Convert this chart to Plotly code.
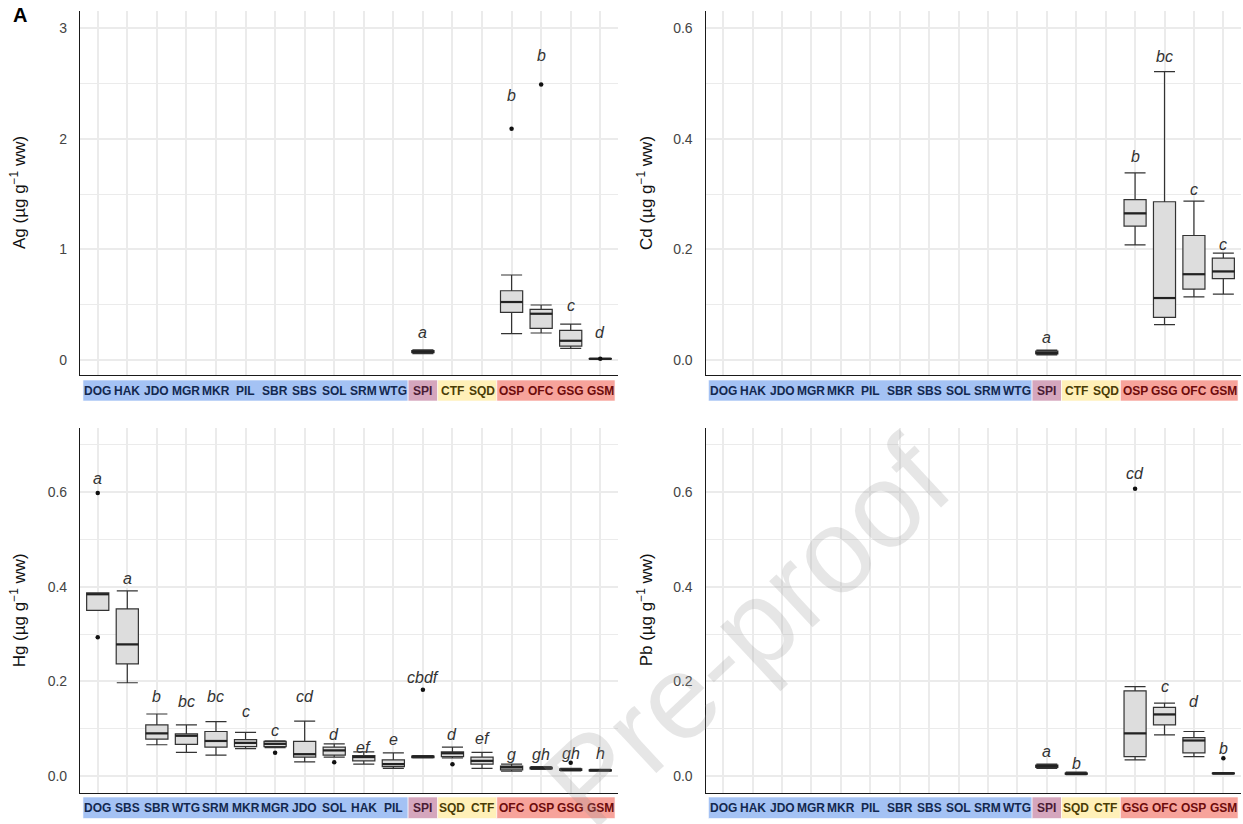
import plotly.graph_objects as go

W, H = 1243, 824

# ---------------- categories ----------------
ag_cats = ["DOG","HAK","JDO","MGR","MKR","PIL","SBR","SBS","SOL","SRM","WTG","SPI","CTF","SQD","OSP","OFC","GSG","GSM"]
cd_cats = ["DOG","HAK","JDO","MGR","MKR","PIL","SBR","SBS","SOL","SRM","WTG","SPI","CTF","SQD","OSP","GSG","OFC","GSM"]
hg_cats = ["DOG","SBS","SBR","WTG","SRM","MKR","MGR","JDO","SOL","HAK","PIL","SPI","SQD","CTF","OFC","OSP","GSG","GSM"]
pb_cats = ["DOG","HAK","JDO","MGR","MKR","PIL","SBR","SBS","SOL","SRM","WTG","SPI","SQD","CTF","GSG","OFC","OSP","GSM"]

# group of each category: 0 blue, 1 pink, 2 yellow, 3 red
group_of = {c: 0 for c in ["DOG","HAK","JDO","MGR","MKR","PIL","SBR","SBS","SOL","SRM","WTG"]}
group_of.update({"SPI": 1, "CTF": 2, "SQD": 2, "OSP": 3, "OFC": 3, "GSG": 3, "GSM": 3})

# ---------------- Ag ----------------
ag_box = ["SPI", "OSP", "OFC", "GSG", "GSM"]
ag_low = [0.058, 0.238, 0.244, 0.105, 0.006]
ag_q1 = [0.066, 0.430, 0.286, 0.126, 0.009]
ag_med = [0.075, 0.524, 0.418, 0.174, 0.011]
ag_q3 = [0.085, 0.626, 0.458, 0.268, 0.013]
ag_high = [0.092, 0.768, 0.497, 0.325, 0.016]
ag_out_cat = ["OSP", "OFC", "GSM"]
ag_out_val = [2.09, 2.49, 0.012]
ag_letters = ["a", "b", "b", "c", "d"]
ag_letter_y = [0.253, 2.394, 2.755, 0.497, 0.247]

# ---------------- Cd ----------------
cd_box = ["SPI", "OSP", "GSG", "OFC", "GSM"]
cd_low = [0.009, 0.208, 0.064, 0.114, 0.119]
cd_q1 = [0.011, 0.242, 0.077, 0.128, 0.147]
cd_med = [0.013, 0.265, 0.112, 0.155, 0.160]
cd_q3 = [0.016, 0.290, 0.286, 0.225, 0.184]
cd_high = [0.018, 0.338, 0.521, 0.287, 0.193]
cd_out_cat = []
cd_out_val = []
cd_letters = ["a", "b", "bc", "c", "c"]
cd_letter_y = [0.040, 0.368, 0.548, 0.308, 0.208]

# ---------------- Hg ----------------
hg_box = hg_cats
hg_low = [0.350, 0.197, 0.066, 0.050, 0.044, 0.058, 0.060, 0.030, 0.040, 0.025, 0.016, 0.038, 0.038, 0.016, 0.010, 0.014, 0.011, 0.010]
hg_q1 = [0.350, 0.237, 0.078, 0.067, 0.061, 0.062, 0.062, 0.040, 0.044, 0.032, 0.020, 0.039, 0.041, 0.025, 0.013, 0.015, 0.012, 0.011]
hg_med = [0.384, 0.278, 0.090, 0.085, 0.074, 0.070, 0.068, 0.046, 0.054, 0.040, 0.025, 0.041, 0.048, 0.032, 0.018, 0.017, 0.013, 0.012]
hg_q3 = [0.387, 0.353, 0.108, 0.089, 0.094, 0.077, 0.073, 0.073, 0.061, 0.043, 0.034, 0.042, 0.051, 0.040, 0.021, 0.018, 0.015, 0.013]
hg_high = [0.387, 0.391, 0.131, 0.108, 0.115, 0.092, 0.074, 0.116, 0.068, 0.051, 0.049, 0.043, 0.061, 0.050, 0.025, 0.020, 0.016, 0.014]
hg_out_cat = ["DOG", "DOG", "MGR", "SOL", "SPI", "SQD", "GSG"]
hg_out_val = [0.598, 0.293, 0.049, 0.029, 0.182, 0.025, 0.028]
hg_letters = ["a", "a", "b", "bc", "bc", "c", "c", "cd", "d", "ef", "e", "cbdf", "d", "ef", "g", "gh", "gh", "h"]
hg_letter_y = [0.629, 0.418, 0.168, 0.158, 0.168, 0.137, 0.097, 0.169, 0.088, 0.061, 0.078, 0.208, 0.088, 0.080, 0.046, 0.046, 0.047, 0.047]

# ---------------- Pb ----------------
pb_box = ["SPI", "SQD", "GSG", "OFC", "OSP", "GSM"]
pb_low = [0.016, 0.003, 0.034, 0.087, 0.041, 0.004]
pb_q1 = [0.018, 0.004, 0.041, 0.108, 0.049, 0.005]
pb_med = [0.021, 0.005, 0.090, 0.130, 0.075, 0.0056]
pb_q3 = [0.023, 0.006, 0.180, 0.145, 0.081, 0.006]
pb_high = [0.025, 0.008, 0.189, 0.154, 0.094, 0.007]
pb_out_cat = ["GSG", "GSM"]
pb_out_val = [0.607, 0.0375]
pb_letters = ["a", "b", "cd", "c", "d", "b"]
pb_letter_y = [0.051, 0.027, 0.639, 0.189, 0.157, 0.0585]

# ---------------- styling ----------------
FONT = "Liberation Sans, Arial, sans-serif"
BOX_FILL = "#dddddd"
BOX_LINE = "#333333"
GRID = "#ebebeb"
strip_fill = ["#a4c2f4", "#d5a6bd", "#fff0b8", "#f7a39b"]
strip_text = ["#13284f", "#4a1c35", "#4a3c05", "#6e0b0b"]

XL = [80 / W, 618 / W]
XR = [705.5 / W, 1241 / W]
YT = [1 - 375 / H, 1 - 11 / H]
YB = [1 - 792.7 / H, 1 - 428 / H]

fig = go.Figure()
annotations = []
shapes = []

panels = [
    dict(ax="", cats=ag_cats, box=ag_box, low=ag_low, q1=ag_q1, med=ag_med, q3=ag_q3, high=ag_high,
         oc=ag_out_cat, ov=ag_out_val, let=ag_letters, ly=ag_letter_y, xd=XL, yd=YT,
         rng=[-0.1355, 3.1536], dt=1, fmt="d", title="Ag (µg g<sup>−1</sup> ww)", strip=(380, 401)),
    dict(ax="2", cats=cd_cats, box=cd_box, low=cd_low, q1=cd_q1, med=cd_med, q3=cd_q3, high=cd_high,
         oc=cd_out_cat, ov=cd_out_val, let=cd_letters, ly=cd_letter_y, xd=XR, yd=YT,
         rng=[-0.0271, 0.6307], dt=0.2, fmt=".1f", title="Cd (µg g<sup>−1</sup> ww)", strip=(380, 401)),
    dict(ax="3", cats=hg_cats, box=hg_box, low=hg_low, q1=hg_q1, med=hg_med, q3=hg_q3, high=hg_high,
         oc=hg_out_cat, ov=hg_out_val, let=hg_letters, ly=hg_letter_y, xd=XL, yd=YB,
         rng=[-0.0353, 0.7353], dt=0.2, fmt=".1f", title="Hg (µg g<sup>−1</sup> ww)", strip=(797, 818.5)),
    dict(ax="4", cats=pb_cats, box=pb_box, low=pb_low, q1=pb_q1, med=pb_med, q3=pb_q3, high=pb_high,
         oc=pb_out_cat, ov=pb_out_val, let=pb_letters, ly=pb_letter_y, xd=XR, yd=YB,
         rng=[-0.0353, 0.7353], dt=0.2, fmt=".1f", title="Pb (µg g<sup>−1</sup> ww)", strip=(797, 818.5)),
]

layout_axes = {}
for p in panels:
    xa = "x" + p["ax"]
    ya = "y" + p["ax"]
    idx = {c: i for i, c in enumerate(p["cats"])}
    bx = [idx[c] for c in p["box"]]
    fig.add_trace(go.Box(
        x=bx, q1=p["q1"], median=p["med"], q3=p["q3"],
        lowerfence=p["low"], upperfence=p["high"],
        width=0.75, whiskerwidth=0.95, boxpoints=False,
        fillcolor=BOX_FILL, line=dict(color=BOX_LINE, width=1.2),
        xaxis=xa, yaxis=ya, showlegend=False, hoverinfo="skip"))
    # thicker median
    fig.add_trace(go.Scatter(
        x=bx, y=p["med"], mode="markers", xaxis=xa, yaxis=ya, showlegend=False,
        marker=dict(symbol="line-ew", size=16, line=dict(color="#222222", width=2.2)),
        hoverinfo="skip"))
    if p["oc"]:
        fig.add_trace(go.Scatter(
            x=[idx[c] for c in p["oc"]], y=p["ov"], mode="markers", xaxis=xa, yaxis=ya,
            showlegend=False, marker=dict(color="#111111", size=4.5), hoverinfo="skip"))
    for c, t, yv in zip(p["box"], p["let"], p["ly"]):
        annotations.append(dict(x=idx[c], y=yv, xref=xa, yref=ya, text="<i>" + t + "</i>",
                                showarrow=False, yanchor="middle",
                                font=dict(family=FONT, size=16, color="#333333")))
    # strip
    s0, s1 = p["strip"]
    yy0, yy1 = 1 - s1 / H, 1 - s0 / H
    groups = [group_of[c] for c in p["cats"]]
    start = 0
    for i in range(1, len(groups) + 1):
        if i == len(groups) or groups[i] != groups[start]:
            shapes.append(dict(type="rect", xref=xa, yref="paper", x0=start - 0.5, x1=i - 0.5,
                               y0=yy0, y1=yy1, fillcolor=strip_fill[groups[start]],
                               line=dict(width=0.6, color="white"), layer="below"))
            start = i
    for i, c in enumerate(p["cats"]):
        annotations.append(dict(x=i, y=(yy0 + yy1) / 2, xref=xa, yref="paper", text="<b>" + c + "</b>",
                                showarrow=False, yanchor="middle", xanchor="center",
                                font=dict(family=FONT, size=12, color=strip_text[group_of[c]])))
    # y title
    ymid = (p["yd"][0] + p["yd"][1]) / 2
    tx = 18 / W if p["xd"] is XL else 645 / W
    annotations.append(dict(x=tx, y=ymid, xref="paper", yref="paper", text=p["title"],
                            textangle=-90, showarrow=False, xanchor="center", yanchor="middle",
                            font=dict(family=FONT, size=17, color="#111111")))
    layout_axes["xaxis" + p["ax"]] = dict(
        domain=p["xd"], anchor=ya, range=[-0.6, 17.6], tickmode="linear", tick0=0, dtick=1,
        showticklabels=False, ticks="", showgrid=True, gridcolor=GRID, gridwidth=2,
        zeroline=False, showline=True, linecolor="#1a1a1a", linewidth=1.2)
    layout_axes["yaxis" + p["ax"]] = dict(
        domain=p["yd"], anchor=xa, range=p["rng"], tickmode="linear", tick0=0, dtick=p["dt"],
        tickformat=p["fmt"], ticks="", ticklabelstandoff=9, showgrid=True, gridcolor=GRID,
        gridwidth=2, zeroline=False, showline=True, linecolor="#1a1a1a", linewidth=1.2,
        tickfont=dict(family=FONT, size=14, color="#444444"),
        minor=dict(tickmode="linear", tick0=p["dt"] / 2, dtick=p["dt"], showgrid=True,
                   gridcolor=GRID, gridwidth=1, ticks=""))

# panel label
annotations.append(dict(x=20 / W, y=1 - 15 / H, xref="paper", yref="paper", text="<b>A</b>",
                        showarrow=False, xanchor="center", yanchor="middle",
                        font=dict(family=FONT, size=20, color="#000000")))
# watermark
annotations.append(dict(x=746 / W, y=1 - 632 / H, xref="paper", yref="paper", text="Pre-proof",
                        textangle=-43, showarrow=False, xanchor="center", yanchor="middle",
                        font=dict(family=FONT, size=120, color="rgba(150,150,150,0.24)")))

fig.update_layout(
    width=W, height=H, margin=dict(l=0, r=0, t=0, b=0),
    paper_bgcolor="white", plot_bgcolor="white",
    annotations=annotations, shapes=shapes, showlegend=False,
    font=dict(family=FONT), **layout_axes)

fig.write_html("out.html")
